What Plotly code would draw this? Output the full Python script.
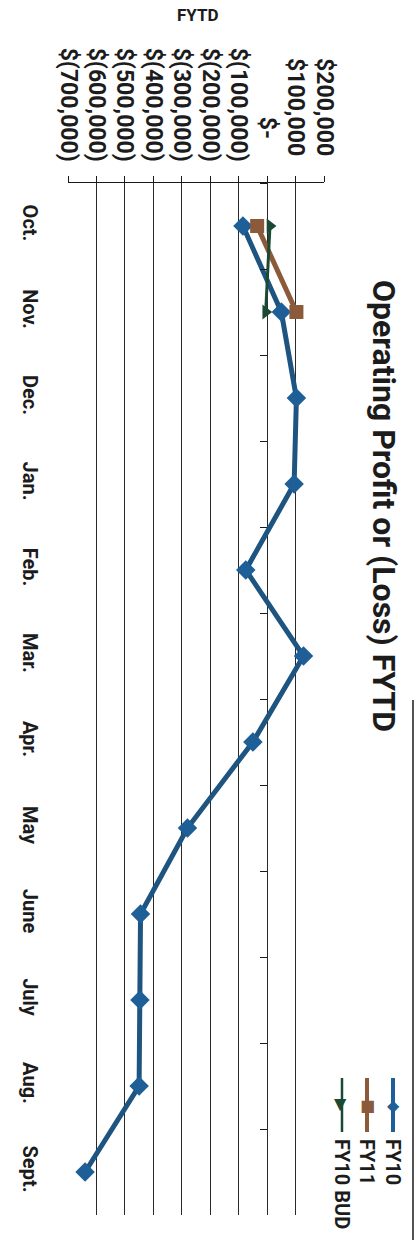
import plotly.graph_objects as go

months = ["Oct.", "Nov.", "Dec.", "Jan.", "Feb.", "Mar.", "Apr.", "May", "June", "July", "Aug.", "Sept."]
fy10 = [-85000, 50000, 103000, 95000, -75000, 128000, -50000, -280000, -445000, -447000, -450000, -640000]
fy11 = [-35000, 103000, None, None, None, None, None, None, None, None, None, None]
fy10_bud = [10000, -5000, None, None, None, None, None, None, None, None, None, None]

tick_vals = [200000, 100000, 0, -100000, -200000, -300000, -400000, -500000, -600000, -700000]
tick_text = ["$200,000\u00a0", "$100,000\u00a0", "$-\u00a0\u00a0\u00a0\u00a0", "$(100,000)", "$(200,000)",
             "$(300,000)", "$(400,000)", "$(500,000)", "$(600,000)", "$(700,000)"]

title_text = "Operating Profit or (Loss) FYTD"
header_text = "FYTD"
legend_names = ["FY10", "FY11", "FY10 BUD"]

C_FY10_LINE = "#1e5480"
C_FY10_MK = "#1d5f96"
C_FY11 = "#8a5a3a"
C_BUD = "#1b4a33"
FONT = "Roboto"
TXT = "#1c1c1c"

W, H = 420, 1240
L, R, T, B = 68, 96, 183, 25
PW, PH = W - L - R, H - T - B


def px(xp):
    return (xp - L) / PW


def py(yp):
    return (H - B - yp) / PH


fig = go.Figure()
fig.add_trace(go.Scatter(x=fy10, y=months, mode="lines+markers", name=legend_names[0],
                         line=dict(color=C_FY10_LINE, width=5),
                         marker=dict(symbol="diamond", size=15, color=C_FY10_MK)))
fig.add_trace(go.Scatter(x=fy11, y=months, mode="lines+markers", name=legend_names[1],
                         line=dict(color=C_FY11, width=5),
                         marker=dict(symbol="square", size=14, color=C_FY11)))
fig.add_trace(go.Scatter(x=fy10_bud, y=months, mode="lines+markers", name=legend_names[2],
                         line=dict(color=C_BUD, width=3),
                         marker=dict(symbol="triangle-right", size=13, color=C_BUD)))
# invisible helper trace so the category-axis at zero is drawn
fig.add_trace(go.Scatter(x=fy10, y=months, yaxis="y2", mode="lines", opacity=0,
                         line=dict(width=0), hoverinfo="skip", showlegend=False))

fig.update_layout(
    width=W, height=H,
    margin=dict(l=L, r=R, t=T, b=B),
    paper_bgcolor="white", plot_bgcolor="white",
    showlegend=False,
    xaxis=dict(side="top", range=[-700000, 200000], tickvals=tick_vals, ticktext=tick_text,
               tickangle=90, tickfont=dict(family=FONT, size=23, color=TXT, weight="bold"),
               ticklabelstandoff=6,
               showgrid=True, gridcolor="#2a2a2a", gridwidth=1.3, zeroline=False,
               showline=True, linecolor="#1a1a1a", linewidth=1.3,
               ticks="outside", ticklen=6, tickcolor="#1a1a1a", tickwidth=1.3),
    yaxis=dict(type="category", categoryarray=months, range=[11.5, -0.5],
               tickangle=90, tickfont=dict(family=FONT, size=20, color=TXT, weight="bold"),
               showgrid=False, zeroline=False, showline=False, ticks="", ticklabelstandoff=24),
    yaxis2=dict(type="category", categoryarray=months, range=[11.5, -0.5], overlaying="y",
                anchor="free", position=0.7778, side="left", showticklabels=False,
                showgrid=False, zeroline=False, showline=False,
                ticks="outside", ticklen=7, tickcolor="#1a1a1a", tickwidth=1.3,
                tickson="boundaries"),
)

ann = [
    dict(text=title_text, x=px(384), y=py(506), xref="paper", yref="paper", showarrow=False,
         textangle=90, xanchor="center", yanchor="middle",
         font=dict(family=FONT, size=32, color=TXT, weight="bold")),
    dict(text=header_text, x=px(198), y=py(15), xref="paper", yref="paper", showarrow=False,
         xanchor="center", yanchor="middle",
         font=dict(family=FONT, size=17, color=TXT, weight="bold")),
]

leg_x = [393, 367, 342]
leg_cols = [C_FY10_MK, C_FY11, C_BUD]
leg_glyph = ["\u25c6", "\u25a0", "\u25b6"]
leg_lw = [4, 4, 2.5]
shapes = []
for i, name in enumerate(legend_names):
    shapes.append(dict(type="line", xref="paper", yref="paper", x0=px(leg_x[i]), x1=px(leg_x[i]),
                       y0=py(1078), y1=py(1132), line=dict(color=leg_cols[i], width=leg_lw[i])))
    ann.append(dict(text=leg_glyph[i], x=px(leg_x[i]), y=py(1105), xref="paper", yref="paper",
                    showarrow=False, xanchor="center", yanchor="middle",
                    textangle=90 if i == 2 else 0,
                    font=dict(family="DejaVu Sans", size=16, color=leg_cols[i])))
    ann.append(dict(text=name, x=px(leg_x[i]), y=py(1137), xref="paper", yref="paper",
                    showarrow=False, textangle=90, xanchor="center", yanchor="top",
                    font=dict(family=FONT, size=20, color=TXT, weight="bold")))

# chart frame border on the right
shapes.append(dict(type="line", xref="paper", yref="paper", x0=px(413), x1=px(413),
                   y0=py(700), y1=py(1240), line=dict(color="#1a1a1a", width=1.5)))

fig.update_layout(annotations=ann, shapes=shapes)
fig.write_html("out.html")
